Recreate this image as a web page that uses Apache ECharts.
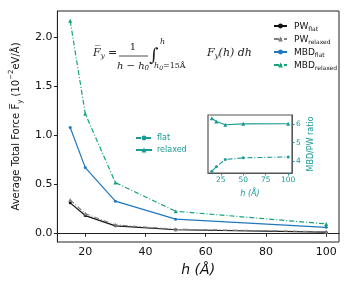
<!DOCTYPE html>
<html><head><meta charset="utf-8">
<script src="https://cdn.jsdelivr.net/npm/echarts@6/dist/echarts.min.js"></script>
<style>html,body{margin:0;padding:0;background:#fff}#c{width:350px;height:294px}</style>
</head><body><div id="c"></div>
<script>
const hValues = [15, 20, 30, 50, 100];
const pwFlat = [0.31, 0.18, 0.075, 0.035, 0.01];
const pwRelaxed = [0.34, 0.20, 0.085, 0.04, 0.015];
const mbdFlat = [1.08, 0.67, 0.327, 0.143, 0.06];
const mbdRelaxed = [2.17, 1.22, 0.517, 0.224, 0.095];
const ratioFlat = [3.46, 3.70, 4.09, 4.18, 4.23];
const ratioRelaxed = [6.33, 6.15, 5.97, 6.02, 6.03];
const xTicks = [20, 40, 60, 80, 100];
const yTicks = [0, 0.5, 1.0, 1.5, 2.0];
const insetXTicks = [25, 50, 75, 100];
const insetYTicks = [4, 5, 6];

const pair = (ys) => hValues.map((h, i) => [h, ys[i]]);
const teal = '#1a9a96';
const serif = 'DejaVu Serif';

const chart = echarts.init(document.getElementById('c'), null, {renderer: 'canvas'});
const subRich = {
  a: {fontSize: 9, fontFamily: 'DejaVu Sans', color: '#111', verticalAlign: 'bottom', lineHeight: 10},
  b: {fontSize: 6, fontFamily: 'DejaVu Sans', color: '#111', verticalAlign: 'bottom', lineHeight: 7, padding: [0, 0, -1, 0]}
};
const subStyle = (size) => ({fontSize: size, fontFamily: serif, fontStyle: 'italic', fill: '#222', verticalAlign: 'bottom', padding: [0, 0, -1, 0]});
const option = {
  animation: false,
  grid: [
    {left: 57, right: 11, top: 11, bottom: 52, show: true, borderColor: '#222', borderWidth: 1},
    {left: 208, top: 115, width: 84, height: 58, show: true, borderColor: '#555', borderWidth: 1.2, z: 5}
  ],
  xAxis: [
    {type: 'value', gridIndex: 0, min: 10.75, max: 104.25,
     axisLine: {show: true, lineStyle: {color: '#222'}},
     axisTick: {show: true, length: 3.5, customValues: xTicks, lineStyle: {color: '#222'}},
     axisLabel: {customValues: xTicks, fontSize: 11, color: '#111', fontFamily: 'DejaVu Sans', margin: 5},
     splitLine: {show: false},
     name: '{i|h (Å)}', nameLocation: 'middle', nameGap: 20,
     nameTextStyle: {rich: {i: {fontSize: 14, fontStyle: 'italic', fontFamily: 'DejaVu Sans', color: '#111'}}}},
    {type: 'value', gridIndex: 1, min: 10.75, max: 104.25,
     axisLine: {show: true, lineStyle: {color: '#555'}},
     axisTick: {show: true, length: 2.5, customValues: insetXTicks, lineStyle: {color: teal}},
     axisLabel: {customValues: insetXTicks, fontSize: 7.5, color: teal, fontFamily: 'DejaVu Sans', margin: 3},
     splitLine: {show: false},
     name: 'h (Å)', nameLocation: 'middle', nameGap: 17,
     nameTextStyle: {fontSize: 8, fontStyle: 'italic', color: teal, fontFamily: 'DejaVu Sans'}}
  ],
  yAxis: [
    {type: 'value', gridIndex: 0, min: -0.09, max: 2.27,
     axisLine: {show: true, lineStyle: {color: '#222'}},
     axisTick: {show: true, length: 3.5, customValues: yTicks, lineStyle: {color: '#222'}},
     axisLabel: {customValues: yTicks, fontSize: 11, color: '#111', fontFamily: 'DejaVu Sans', margin: 5,
                 formatter: v => v.toFixed(1)},
     splitLine: {show: false},
     name: '{t|Average Total Force }{t|F\u0305}{s|y}{t| (10}{p|−2}{t|eV/Å)}',
     nameLocation: 'middle', nameGap: 32, nameRotate: 90,
     nameTextStyle: {rich: {
       t: {fontSize: 10, fontFamily: 'DejaVu Sans', color: '#111', verticalAlign: 'middle', lineHeight: 12},
       s: {fontSize: 7, fontFamily: 'DejaVu Sans', color: '#111', verticalAlign: 'bottom', lineHeight: 8, padding: [0, 0, -2, 0]},
       p: {fontSize: 7, fontFamily: 'DejaVu Sans', color: '#111', verticalAlign: 'top', lineHeight: 8, padding: [-2, 0, 0, 0]}
     }}},
    {type: 'value', gridIndex: 1, min: 3.36, max: 6.5, position: 'right',
     axisLine: {show: true, lineStyle: {color: '#555'}},
     axisTick: {show: true, length: 2.5, customValues: insetYTicks, lineStyle: {color: teal}},
     axisLabel: {customValues: insetYTicks, fontSize: 7.5, color: teal, fontFamily: 'DejaVu Sans', margin: 4},
     splitLine: {show: false},
     name: 'MBD/PW ratio', nameLocation: 'middle', nameGap: 15, nameRotate: 90,
     nameTextStyle: {fontSize: 8, color: teal, fontFamily: 'DejaVu Sans'}}
  ],
  legend: [
    {orient: 'vertical', left: 268, top: 17, itemWidth: 13, itemHeight: 6, itemGap: 3,
     data: ['PW_flat', 'PW_relaxed', 'MBD_flat', 'MBD_relaxed'],
     formatter: n => { const [a, b] = n.split('_'); return '{a|' + a + '}{b|' + b + '}'; },
     textStyle: {rich: subRich, padding: [0, 0, 0, 2]}},
    {orient: 'vertical', left: 130, top: 129, itemWidth: 16, itemHeight: 6, itemGap: 4,
     data: ['flat', 'relaxed'],
     textStyle: {fontSize: 8, color: teal, fontFamily: 'DejaVu Sans'}}
  ],
  series: [
    {name: 'PW_flat', type: 'line', xAxisIndex: 0, yAxisIndex: 0, data: pair(pwFlat),
     color: '#111', symbol: 'circle', symbolSize: 3, lineStyle: {width: 1.2}},
    {name: 'PW_relaxed', type: 'line', xAxisIndex: 0, yAxisIndex: 0, data: pair(pwRelaxed),
     color: '#808080', symbol: 'triangle', symbolSize: 4, lineStyle: {width: 1.2, type: [5, 2, 1, 2]}},
    {name: 'MBD_flat', type: 'line', xAxisIndex: 0, yAxisIndex: 0, data: pair(mbdFlat),
     color: '#1f77bd', symbol: 'circle', symbolSize: 3, lineStyle: {width: 1.2}},
    {name: 'MBD_relaxed', type: 'line', xAxisIndex: 0, yAxisIndex: 0, data: pair(mbdRelaxed),
     color: '#16a37f', symbol: 'triangle', symbolSize: 4, lineStyle: {width: 1.2, type: [5, 2, 1, 2]}},
    {name: 'flat', type: 'line', xAxisIndex: 1, yAxisIndex: 1, data: pair(ratioFlat),
     color: teal, symbol: 'circle', symbolSize: 3, lineStyle: {width: 1.1, type: [5, 2, 1, 2]}, z: 6},
    {name: 'relaxed', type: 'line', xAxisIndex: 1, yAxisIndex: 1, data: pair(ratioRelaxed),
     color: teal, symbol: 'triangle', symbolSize: 4, lineStyle: {width: 1.1}, z: 6}
  ],
  graphic: [
    {type: 'rect', shape: {x: 208, y: 115, width: 84, height: 58}, style: {fill: '#fff'}, z: 1, silent: true},
    {type: 'text', x: 93, y: 53, style: {text: '{f|F\u0305}{s|y}{f| =}', verticalAlign: 'middle', rich: {
      f: {fontSize: 11, fontFamily: serif, fontStyle: 'italic', fill: '#222'},
      s: subStyle(7)}}},
    {type: 'text', x: 133, y: 47, style: {text: '1', fontSize: 10, fontFamily: serif, fill: '#222', align: 'center', verticalAlign: 'middle'}},
    {type: 'line', shape: {x1: 119, y1: 56, x2: 148, y2: 56}, style: {stroke: '#222', lineWidth: 0.8}},
    {type: 'text', x: 133, y: 66, style: {text: '{f|h − h}{s|0}', align: 'center', verticalAlign: 'middle', rich: {
      f: {fontSize: 10, fontFamily: serif, fontStyle: 'italic', fill: '#222'},
      s: subStyle(7)}}},
    {type: 'text', x: 149, y: 56, style: {text: '∫', fontSize: 18, fontFamily: serif, fill: '#222', verticalAlign: 'middle'}},
    {type: 'text', x: 160, y: 42, style: {text: 'h', fontSize: 8, fontFamily: serif, fontStyle: 'italic', fill: '#222', verticalAlign: 'middle'}},
    {type: 'text', x: 154, y: 66, style: {text: '{f|h}{s|0}{n|=15Å}', verticalAlign: 'middle', rich: {
      f: {fontSize: 8, fontFamily: serif, fontStyle: 'italic', fill: '#222'},
      s: subStyle(6),
      n: {fontSize: 8, fontFamily: serif, fill: '#222'}}}},
    {type: 'text', x: 207, y: 53, style: {text: '{f|F}{s|y}{f|(h) dh}', verticalAlign: 'middle', rich: {
      f: {fontSize: 11, fontFamily: serif, fontStyle: 'italic', fill: '#222'},
      s: subStyle(7)}}}
  ]
};
chart.setOption(option);
</script></body></html>
